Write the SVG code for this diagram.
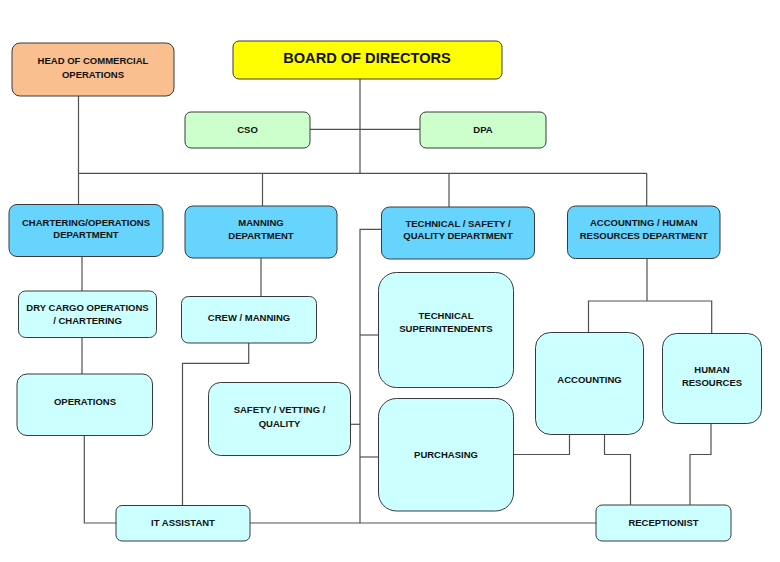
<svg xmlns="http://www.w3.org/2000/svg" width="780" height="562" viewBox="0 0 780 562">
<style>
  .box { stroke: #3a3a3a; stroke-width: 1; }
  .head { fill: #f9bf8f; }
  .board { fill: #ffff00; }
  .green { fill: #ccffcc; }
  .dept { fill: #66d4fd; }
  .unit { fill: #ccffff; }
  text { font-family: "Liberation Sans", Arial, sans-serif; font-weight: bold; font-size: 9.5px; fill: #111; text-anchor: middle; }
  .big { font-size: 14.6px; }
  .conn path { fill: none; stroke: #505050; stroke-width: 1.2; }
</style>
<rect width="780" height="562" fill="#ffffff"/>
<g class="conn" id="connectors">
  <path d="M360,79 V173.3"/>
  <path d="M310,129.3 H420"/>
  <path d="M78.5,173.3 H646.7"/>
  <path d="M78.5,96 V204.5"/>
  <path d="M262.5,173.3 V206"/>
  <path d="M449,173.3 V207"/>
  <path d="M646.7,173.3 V206"/>
  <path d="M82,256.5 V291"/>
  <path d="M82,337.5 V374"/>
  <path d="M84.3,435.5 V523 H116"/>
  <path d="M261,258 V296.5"/>
  <path d="M248.7,343 V363.3 H182.5 V505.5"/>
  <path d="M381.5,229.3 H360 V523"/>
  <path d="M250,523 H596"/>
  <path d="M360,335 H378.5"/>
  <path d="M350.5,424.3 H360"/>
  <path d="M360,457 H378.5"/>
  <path d="M647,258.5 V301"/>
  <path d="M588.5,332.5 V301 H711.7 V333.5"/>
  <path d="M513.5,454.5 H569.5 V434.5"/>
  <path d="M604.5,434.5 V454.5 H630.5 V505"/>
  <path d="M711,423.5 V454.5 H690 V505"/>
</g>
<g id="head-commercial">
  <rect class="box head" x="12" y="43" width="162" height="53" rx="8"/>
  <text x="93" y="64">HEAD OF COMMERCIAL</text>
  <text x="93" y="77.6">OPERATIONS</text>
</g>
<g id="board">
  <rect class="box board" x="233" y="41" width="269" height="38" rx="6"/>
  <text class="big" x="367" y="62.8">BOARD OF DIRECTORS</text>
</g>
<g id="cso">
  <rect class="box green" x="185" y="112" width="125" height="36" rx="6"/>
  <text x="247.5" y="133.4">CSO</text>
</g>
<g id="dpa">
  <rect class="box green" x="420" y="112" width="126" height="36" rx="6"/>
  <text x="483" y="133.4">DPA</text>
</g>
<g id="chartering-dept">
  <rect class="box dept" x="9" y="204.5" width="154" height="52" rx="8"/>
  <text x="86" y="225.7">CHARTERING/OPERATIONS</text>
  <text x="86" y="238.1">DEPARTMENT</text>
</g>
<g id="manning-dept">
  <rect class="box dept" x="185" y="206" width="152" height="52" rx="8"/>
  <text x="261" y="225.7">MANNING</text>
  <text x="261" y="239.1">DEPARTMENT</text>
</g>
<g id="technical-dept">
  <rect class="box dept" x="381.5" y="207" width="153" height="52" rx="8"/>
  <text x="458" y="226.7">TECHNICAL / SAFETY /</text>
  <text x="458" y="239.4">QUALITY DEPARTMENT</text>
</g>
<g id="accounting-hr-dept">
  <rect class="box dept" x="567.5" y="206" width="152.5" height="52.5" rx="8"/>
  <text x="643.8" y="225.7">ACCOUNTING / HUMAN</text>
  <text x="643.8" y="238.7">RESOURCES DEPARTMENT</text>
</g>
<g id="dry-cargo">
  <rect class="box unit" x="18.5" y="291" width="138" height="46.5" rx="7"/>
  <text x="87.5" y="310.7">DRY CARGO OPERATIONS</text>
  <text x="87.5" y="323.7">/ CHARTERING</text>
</g>
<g id="operations">
  <rect class="box unit" x="17" y="374" width="135.5" height="61.5" rx="10"/>
  <text x="85" y="404.7">OPERATIONS</text>
</g>
<g id="crew-manning">
  <rect class="box unit" x="181.5" y="296.5" width="135" height="46.5" rx="7"/>
  <text x="249" y="321.4">CREW / MANNING</text>
</g>
<g id="safety-vetting">
  <rect class="box unit" x="208.5" y="382.5" width="142" height="73" rx="12"/>
  <text x="279.5" y="412.7">SAFETY / VETTING /</text>
  <text x="279.5" y="426.7">QUALITY</text>
</g>
<g id="tech-superintendents">
  <rect class="box unit" x="378.5" y="272.5" width="135" height="115" rx="18"/>
  <text x="446" y="319.1">TECHNICAL</text>
  <text x="446" y="331.7">SUPERINTENDENTS</text>
</g>
<g id="purchasing">
  <rect class="box unit" x="378.5" y="398.5" width="135" height="112.5" rx="18"/>
  <text x="446" y="457.7">PURCHASING</text>
</g>
<g id="accounting">
  <rect class="box unit" x="535.5" y="332.5" width="108" height="102" rx="15"/>
  <text x="589.5" y="382.7">ACCOUNTING</text>
</g>
<g id="human-resources">
  <rect class="box unit" x="662.5" y="333.5" width="99" height="90" rx="14"/>
  <text x="712" y="372.7">HUMAN</text>
  <text x="712" y="385.7">RESOURCES</text>
</g>
<g id="it-assistant">
  <rect class="box unit" x="116" y="505.5" width="134" height="35.5" rx="6"/>
  <text x="183" y="526.1">IT ASSISTANT</text>
</g>
<g id="receptionist">
  <rect class="box unit" x="596" y="505" width="135" height="36" rx="6"/>
  <text x="663.5" y="525.7">RECEPTIONIST</text>
</g>
</svg>
